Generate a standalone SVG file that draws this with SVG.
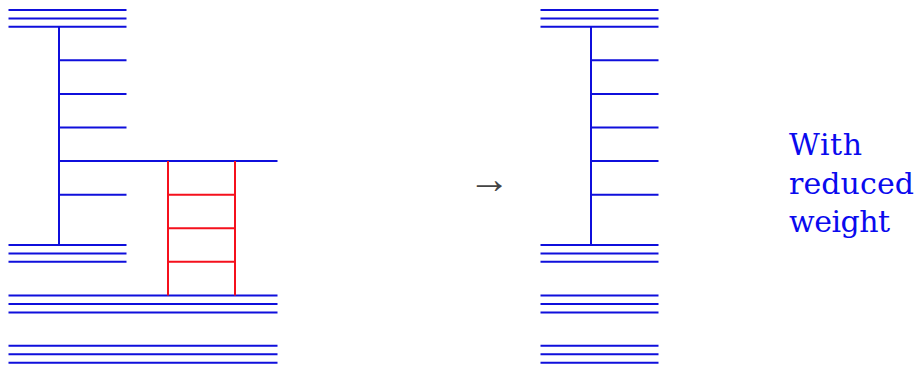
<svg xmlns="http://www.w3.org/2000/svg" width="918" height="366" viewBox="0 0 918 366">
<style>
.b{stroke:#0f0fdc;stroke-width:2;fill:none}
.r{stroke:#f5101c;stroke-width:2;fill:none}
.t{font-family:"DejaVu Serif",serif;font-size:30px;fill:#0a0aee}
.a{font-family:"Liberation Serif",serif;font-size:42px;fill:#444}
</style>
<rect width="918" height="366" fill="#fff"/>
<g id="connectors">
<path class="b" d="M8.5 10H126.5M8.5 18.4H126.5M8.5 26.8H126.5M59 27V245M59 60.3H126.5M59 94H126.5M59 127.5H126.5M59 161H277.5M59 194.7H126.5M8.5 245H126.5M8.5 253.4H126.5M8.5 261.8H126.5M8.5 295.5H277.5M8.5 304H277.5M8.5 312.4H277.5M8.5 345.8H277.5M8.5 354.3H277.5M8.5 362.8H277.5"/>
<path class="r" d="M168 161V295.5M235 161V295.5M168 194.7H235M168 228.2H235M168 261.8H235"/>
<path class="b" d="M540.5 10H658.5M540.5 18.4H658.5M540.5 26.8H658.5M591 27V245M591 60.3H658.5M591 94H658.5M591 127.5H658.5M591 161H658.5M591 194.7H658.5M540.5 245H658.5M540.5 253.4H658.5M540.5 261.8H658.5M540.5 295.5H658.5M540.5 304H658.5M540.5 312.4H658.5M540.5 345.8H658.5M540.5 354.3H658.5M540.5 362.8H658.5"/>
</g>
<g id="arrow"><text class="a" x="468" y="192.5">→</text></g>
<g id="label">
<text class="t" x="789" y="155" textLength="73">With</text>
<text class="t" x="789" y="193.5" textLength="125">reduced</text>
<text class="t" x="789" y="232" textLength="101">weight</text>
</g>
</svg>
